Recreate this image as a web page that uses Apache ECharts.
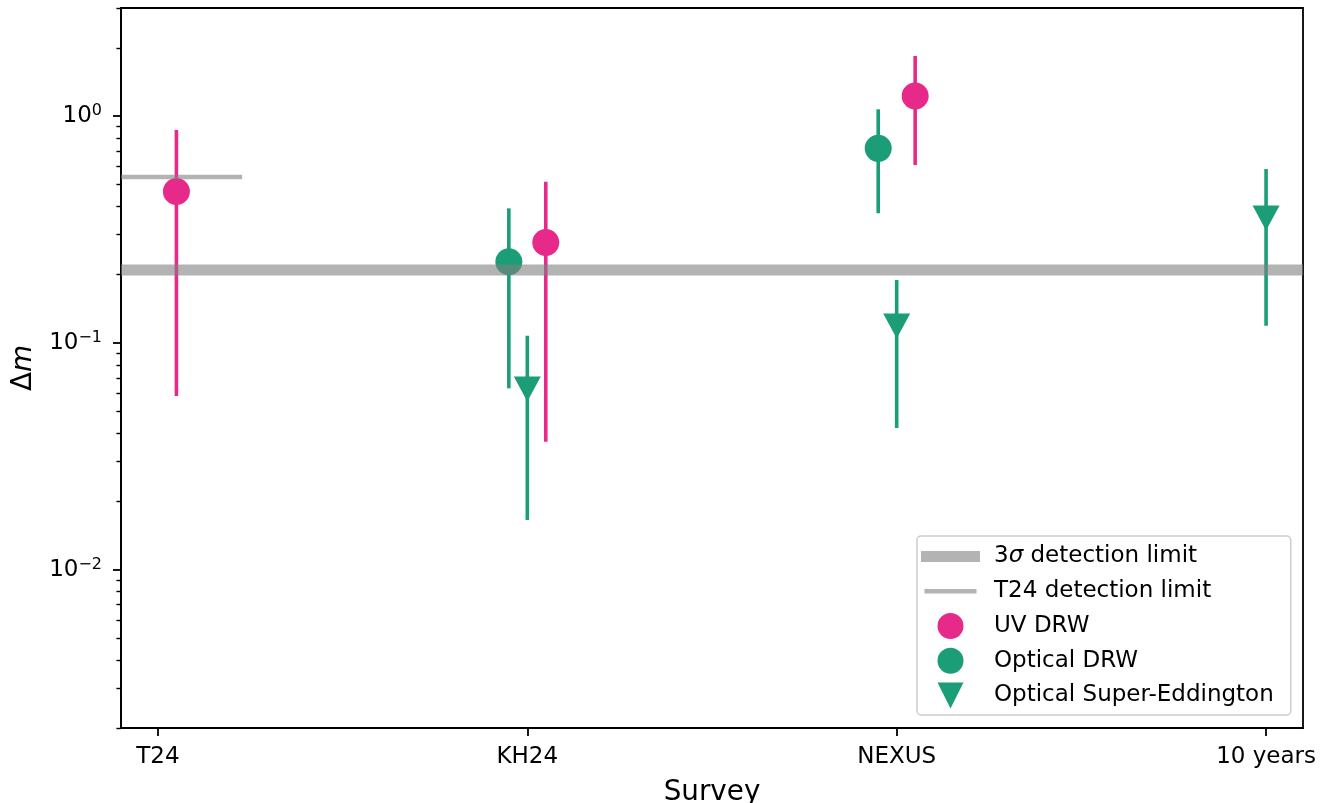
<!DOCTYPE html>
<html>
<head>
<meta charset="utf-8">
<script src="https://cdn.jsdelivr.net/npm/echarts@6/dist/echarts.min.js"></script>
<style>
  html, body { margin: 0; padding: 0; background: #fff; }
  #chart { width: 1328px; height: 803px; }
</style>
</head>
<body>
<div id="chart"></div>
<script>
// survey names on the x axis (positions 0..3)
var surveys = ['T24', 'KH24', 'NEXUS', '10 years'];

// UV DRW: x position, value, lower and upper end of the error bar
var uvX = [0.05, 1.05, 2.05];
var uvVal = [0.465, 0.277, 1.227];
var uvLo = [0.0583, 0.0366, 0.609];
var uvHi = [0.869, 0.514, 1.843];

// Optical DRW
var optX = [0.95, 1.95];
var optVal = [0.228, 0.721];
var optLo = [0.063, 0.373];
var optHi = [0.392, 1.072];

// Optical Super-Eddington
var sedX = [1, 2, 3];
var sedVal = [0.0626, 0.1187, 0.3556];
var sedLo = [0.01656, 0.0421, 0.119];
var sedHi = [0.1075, 0.1894, 0.5845];

// detection limits
var sigmaLimit = 0.2096;
var t24Limit = 0.539;
var t24LimitEnd = 0.228;

var legendNames = ['3σ detection limit', 'T24 detection limit', 'UV DRW', 'Optical DRW', 'Optical Super-Eddington'];

var xMin = -0.1, xMax = 3.1;
var yMin = 0.002, yMax = 3;
var lg = function(v) { return Math.log10(v); };

var pink = '#e7298a';
var green = '#1b9e77';
var grey = 'rgba(128,128,128,0.6)';
var font = 'DejaVu Sans';

// major and minor tick positions for the log axis
var majorTicks = [-2, -1, 0];
var minorTicks = [];
for (var e = -3; e <= 0; e++) {
  for (var k = 2; k <= 9; k++) {
    var v = k * Math.pow(10, e);
    if (v >= yMin - 1e-12 && v <= yMax + 1e-12) minorTicks.push(lg(v));
  }
}

function points(xs, vals) {
  return xs.map(function(x, i) { return [x, lg(vals[i])]; });
}
function bars(xs, lo, hi) {
  return xs.map(function(x, i) { return [x, lg(lo[i]), lg(hi[i])]; });
}

function errorBars(name, color, data) {
  return {
    name: name,
    type: 'custom',
    z: 1,
    silent: true,
    data: data,
    renderItem: function(params, api) {
      var p1 = api.coord([api.value(0), api.value(1)]);
      var p2 = api.coord([api.value(0), api.value(2)]);
      return {
        type: 'line',
        shape: { x1: p1[0], y1: p1[1], x2: p2[0], y2: p2[1] },
        style: { stroke: color, lineWidth: 3.6 }
      };
    }
  };
}

var triDown = 'path://M0,0 L2,0 L1,2 Z';
// legend handles for the two limit lines (box 59 x 26)
var thickHandle = 'path://M0,0 M59,26 M0,7.5 L59,7.5 L59,18.5 L0,18.5 Z';
var thinHandle = 'path://M0,0 M59,26 M3.5,10.8 L55.5,10.8 L55.5,15.2 L3.5,15.2 Z';

var chart = echarts.init(document.getElementById('chart'), null, { renderer: 'canvas' });
var option = {
  animation: false,
  textStyle: { fontFamily: font },
  grid: {
    left: 121, right: 25, top: 8, bottom: 75,
    containLabel: false,
    outerBoundsMode: 'none',
    show: true, borderColor: '#000', borderWidth: 1.8, backgroundColor: 'transparent'
  },
  legend: {
    data: [
      { name: legendNames[0], icon: thickHandle, itemStyle: { color: grey } },
      { name: legendNames[1], icon: thinHandle, itemStyle: { color: grey } },
      { name: legendNames[2], icon: 'circle' },
      { name: legendNames[3], icon: 'circle' },
      { name: legendNames[4], icon: triDown }
    ],
    orient: 'vertical',
    left: 917, top: 536,
    padding: [7.5, 17, 6.5, 4],
    itemWidth: 59, itemHeight: 26, itemGap: 8.75,
    backgroundColor: 'rgba(255,255,255,0.8)',
    borderColor: '#cccccc', borderWidth: 1.5, borderRadius: 4,
    selectedMode: false,
    formatter: function(name) { return name.replace('σ', '{i|σ}'); },
    textStyle: {
      fontFamily: font, fontSize: 23, color: '#000', lineHeight: 26,
      padding: [0, 0, 0, 9],
      rich: { i: { fontFamily: font, fontSize: 23, fontStyle: 'italic', color: '#000' } }
    }
  },
  xAxis: {
    type: 'value', min: xMin, max: xMax,
    name: 'Survey', nameLocation: 'middle', nameGap: 51,
    nameTextStyle: { fontFamily: font, fontSize: 27.8, color: '#000', verticalAlign: 'top' },
    axisLine: { show: true, onZero: false, lineStyle: { color: '#000', width: 1.8 } },
    axisTick: { show: true, customValues: [0, 1, 2, 3], length: 8, lineStyle: { color: '#000', width: 1.8 } },
    axisLabel: {
      customValues: [0, 1, 2, 3], margin: 18,
      fontFamily: font, fontSize: 23, color: '#000',
      formatter: function(v) { return surveys[Math.round(v)]; }
    },
    splitLine: { show: false }
  },
  yAxis: [{
    type: 'value', min: lg(yMin), max: lg(yMax),
    name: '{u|Δ}{i|m}', nameLocation: 'middle', nameGap: 76, nameRotate: 90,
    nameTextStyle: {
      fontFamily: font, fontSize: 27.8, color: '#000',
      rich: {
        u: { fontFamily: font, fontSize: 27.8, color: '#000' },
        i: { fontFamily: font, fontSize: 27.8, fontStyle: 'italic', color: '#000' }
      }
    },
    axisLine: { show: true, onZero: false, lineStyle: { color: '#000', width: 1.8 } },
    axisTick: { show: true, customValues: majorTicks, length: 8, lineStyle: { color: '#000', width: 1.8 } },
    axisLabel: {
      customValues: majorTicks, margin: 19,
      fontFamily: font, fontSize: 23, color: '#000',
      formatter: function(v) {
        var p = Math.round(v);
        return '{b|10}{s|' + (p < 0 ? '\u2212' + (-p) : p) + '}';
      },
      rich: {
        b: { fontFamily: font, fontSize: 23, color: '#000' },
        s: { fontFamily: font, fontSize: 16, color: '#000', padding: [0, 0, 10, 0] }
      }
    },
    splitLine: { show: false }
  }, {
    type: 'value', min: lg(yMin), max: lg(yMax), position: 'left',
    axisLine: { show: false, onZero: false },
    axisTick: { show: true, customValues: minorTicks, length: 4.6, lineStyle: { color: '#000', width: 1.4 } },
    axisLabel: { show: false },
    splitLine: { show: false }
  }],
  series: [
    errorBars('uv-err', pink, bars(uvX, uvLo, uvHi)),
    errorBars('opt-err', green, bars(optX, optLo, optHi)),
    errorBars('sed-err', green, bars(sedX, sedLo, sedHi)),
    {
      name: 'UV DRW', type: 'scatter', z: 2, symbol: 'circle', symbolSize: 27,
      itemStyle: { color: pink, opacity: 1 },
      data: points(uvX, uvVal)
    },
    {
      name: 'Optical DRW', type: 'scatter', z: 2, symbol: 'circle', symbolSize: 27,
      itemStyle: { color: green, opacity: 1 },
      data: points(optX, optVal)
    },
    {
      name: 'Optical Super-Eddington', type: 'scatter', z: 2, symbol: triDown, symbolSize: [27, 25],
      itemStyle: { color: green, opacity: 1 },
      data: points(sedX, sedVal)
    },
    {
      name: '3σ detection limit', type: 'line', z: 3, symbol: 'none', silent: true,
      lineStyle: { color: grey, width: 11, cap: 'butt' },
      itemStyle: { color: grey },
      data: [[xMin, lg(sigmaLimit)], [xMax, lg(sigmaLimit)]]
    },
    {
      name: 'T24 detection limit', type: 'line', z: 3, symbol: 'none', silent: true,
      lineStyle: { color: grey, width: 4.5, cap: 'butt' },
      itemStyle: { color: grey },
      data: [[xMin, lg(t24Limit)], [t24LimitEnd, lg(t24Limit)]]
    }
  ]
};
chart.setOption(option);
window.onresize = chart.resize;
</script>
</body>
</html>
